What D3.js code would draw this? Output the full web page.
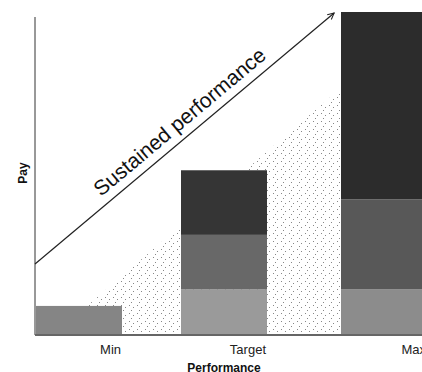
<!DOCTYPE html>
<html>
<head>
<meta charset="utf-8">
<script src="https://cdn.jsdelivr.net/npm/d3@7"></script>
<style>
  html, body { margin: 0; padding: 0; background: #fff; }
  svg { display: block; }
  text { font-family: "Liberation Sans", Arial, Helvetica, sans-serif; }
</style>
</head>
<body>
<svg id="chart" width="422" height="372"></svg>
<script>
// ---- data ----
const categories = ["Min", "Target", "Max"];
const segmentNames = ["base", "mid", "top"];
// stacked pay components (value units 0..100)
const baseValues = [9, 14.2, 14.2];
const midValues  = [0, 16.8, 27.8];
const topValues  = [0, 20, 58];
const tickLabels = ["Min", "Target", "Max"];
const axisTitleX = "Performance";
const axisTitleY = "Pay";
const arrowLabel = "Sustained performance";
// sustained-performance arrow (performance 0..100, pay 0..100)
const arrowPerf = [0, 77.3];
const arrowPay  = [22, 99.7];
// stippled band under diagonal
const stipplePerf = [4.7, 79.1, 79.1];
const stipplePay  = [0, 76.5, 0];

// ---- layout ----
const svg = d3.select("#chart");
const x0 = 35, xEnd = 422, yBase = 335, yTop = 12;

const y = d3.scaleLinear().domain([0, 100]).range([yBase, yTop]);
const xPerf = d3.scaleLinear().domain([0, 100]).range([x0, xEnd]);
const xBar = d3.scaleOrdinal().domain(categories).range([36, 181, 341]);
const barW = 86;

const colors = {
  Min:    ["#858585", "#858585", "#858585"],
  Target: ["#9a9a9a", "#686868", "#353535"],
  Max:    ["#8c8c8c", "#585858", "#2c2c2c"]
};

// stipple pattern
const defs = svg.append("defs");
const pat = defs.append("pattern").attr("id", "stip")
  .attr("patternUnits", "userSpaceOnUse").attr("width", 8).attr("height", 8);
pat.append("rect").attr("width", 8).attr("height", 8).attr("fill", "#fff");
[[1,1],[5,3],[3,6]].forEach(([a,b]) =>
  pat.append("rect").attr("x", a).attr("y", b).attr("width", 1).attr("height", 1).attr("fill", "#888"));

// arrow marker
defs.append("marker").attr("id", "arr")
  .attr("viewBox", "0 0 10 10").attr("refX", 9).attr("refY", 5)
  .attr("markerWidth", 8).attr("markerHeight", 8).attr("orient", "auto")
  .attr("markerUnits", "userSpaceOnUse")
  .append("path").attr("d", "M1,1 L9,5 L1,9").attr("fill", "none")
  .attr("stroke", "#222").attr("stroke-width", 1.3);

// stipple area
const stPts = stipplePerf.map((p, i) => [xPerf(p), y(stipplePay[i])]);
svg.append("path")
  .attr("d", d3.line()(stPts) + "Z")
  .attr("fill", "url(#stip)");

// bars (stacked)
const stackData = categories.map((c, i) => ({
  cat: c, base: baseValues[i], mid: midValues[i], top: topValues[i]
}));
const stack = d3.stack().keys(segmentNames)(stackData);
stack.forEach((layer, li) => {
  svg.append("g").selectAll("rect").data(layer).join("rect")
    .attr("x", d => xBar(d.data.cat))
    .attr("y", d => y(d[1]))
    .attr("width", barW)
    .attr("height", d => Math.max(0, y(d[0]) - y(d[1])))
    .attr("fill", d => colors[d.data.cat][li]);
});

// axes
svg.append("line").attr("x1", x0).attr("x2", x0)
  .attr("y1", 17).attr("y2", yBase).attr("stroke", "#333").attr("stroke-width", 1);
svg.append("line").attr("x1", x0).attr("x2", xEnd)
  .attr("y1", yBase).attr("y2", yBase).attr("stroke", "#666").attr("stroke-width", 2);

// tick labels (right aligned to bar right edge)
svg.append("g").selectAll("text").data(tickLabels).join("text")
  .attr("x", (d, i) => xBar(categories[i]) + barW - 1)
  .attr("y", 354)
  .attr("text-anchor", "end")
  .attr("font-size", 13)
  .attr("fill", "#222")
  .text(d => d);

svg.append("text").attr("x", 224).attr("y", 372)
  .attr("text-anchor", "middle").attr("font-size", 12).attr("font-weight", "bold")
  .attr("fill", "#111").text(axisTitleX);

svg.append("text")
  .attr("transform", "translate(27,173) rotate(-90)")
  .attr("text-anchor", "middle").attr("font-size", 12).attr("font-weight", "bold")
  .attr("fill", "#111").text(axisTitleY);

// sustained performance arrow
const a0 = [xPerf(arrowPerf[0]), y(arrowPay[0])];
const a1 = [xPerf(arrowPerf[1]), y(arrowPay[1])];
svg.append("line").attr("x1", a0[0]).attr("y1", a0[1]).attr("x2", a1[0]).attr("y2", a1[1])
  .attr("stroke", "#222").attr("stroke-width", 1.2).attr("marker-end", "url(#arr)");

const ang = Math.atan2(a1[1] - a0[1], a1[0] - a0[0]) * 180 / Math.PI;
svg.append("text")
  .attr("transform", `translate(101,197) rotate(${ang})`)
  .attr("font-size", 21).attr("fill", "#111")
  .text(arrowLabel);
</script>
</body>
</html>
